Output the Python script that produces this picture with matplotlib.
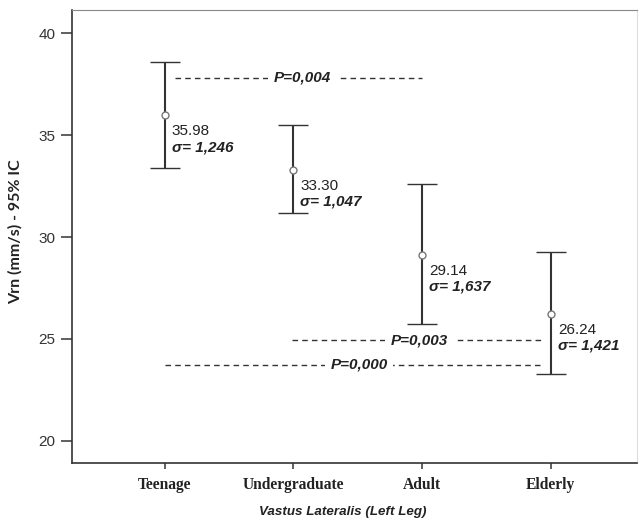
import numpy as np
import matplotlib
matplotlib.use('Agg')
from matplotlib import pyplot as plt

groups = ['Teenage', 'Undergraduate', 'Adult', 'Elderly']
means = [35.98, 33.30, 29.14, 26.24]
upper = [38.58, 35.49, 32.6, 29.26]
lower = [33.38, 31.18, 25.74, 23.28]
sigmas = ['1,246', '1,047', '1,637', '1,421']

# significance brackets: label, y, x start, x end, label x
p_labels = ['P=0,004', 'P=0,003', 'P=0,000']
p_y = [37.8, 24.95, 23.73]
p_x0 = [1.08, 1.99, 1.0]
p_x1 = [3.0, 3.93, 3.93]
p_xt = [2.07, 2.98, 2.51]

fig = plt.figure(figsize=(6.39, 5.20), dpi=100)
ax = fig.add_axes([72/639, 1 - 463/520, 565/639, 453/520])

x = np.arange(1, len(groups) + 1)
means = np.array(means)
yerr = np.array([means - np.array(lower), np.array(upper) - means])
ax.errorbar(x, means, yerr=yerr, fmt='o', color='#333333', ecolor='#333333',
            elinewidth=1.5, capsize=11, capthick=1.5, markersize=5,
            markerfacecolor='white', markeredgecolor='#777777', markeredgewidth=1)

for xi, m, s in zip(x, means, sigmas):
    ax.annotate('%.2f' % m, (xi, m), xytext=(7, -9), textcoords='offset pixels',
                ha='left', va='top', fontsize=11, family='Liberation Sans', color='#222222')
    ax.annotate('\u03c3= ' + s, (xi, m), xytext=(7, -25), textcoords='offset pixels',
                ha='left', va='top', fontsize=11, family='Liberation Sans',
                fontweight='bold', fontstyle='italic', color='#222222')

for lab, yy, a, b, xt in zip(p_labels, p_y, p_x0, p_x1, p_xt):
    ax.hlines(yy, a, b, colors='#333333', linewidth=1, linestyles=(0, (4, 3)))
    ax.text(xt, yy, lab, ha='center', va='center', fontsize=11, family='Liberation Sans',
            fontweight='bold', fontstyle='italic', color='#222222',
            bbox=dict(facecolor='white', edgecolor='none', pad=4))

ax.set_xlim(0.28, 4.67)
ax.set_ylim(18.92, 41.13)
ax.set_yticks([20, 25, 30, 35, 40])
ax.set_xticks(x)
ax.set_xticklabels(groups, family='Liberation Serif', fontweight='bold', fontsize=11.2, color='#222222')
for t in ax.get_yticklabels():
    t.set_family('Liberation Sans')
    t.set_fontsize(11)
    t.set_color('#333333')
ax.tick_params(axis='y', length=8, width=1.2, color='#444444', pad=4)
ax.tick_params(axis='x', length=4, width=1.2, color='#444444', pad=6)

ax.spines['left'].set_color('#333333')
ax.spines['bottom'].set_color('#333333')
ax.spines['left'].set_linewidth(1.2)
ax.spines['bottom'].set_linewidth(1.2)
ax.spines['top'].set_color('#888888')
ax.spines['right'].set_color('#dddddd')

ax.set_ylabel('Vrn (mm/s) - 95% IC', fontsize=11.5, fontweight='bold', family='Lato', color='#222222')
ax.yaxis.set_label_coords(-0.088, 0.51)
ax.set_xlabel('Vastus Lateralis (Left Leg)', fontsize=9.6, fontweight='bold', fontstyle='italic',
              family='Liberation Sans', color='#222222')
ax.xaxis.set_label_coords(0.48, -0.095)

plt.savefig('out.png', dpi=100)
